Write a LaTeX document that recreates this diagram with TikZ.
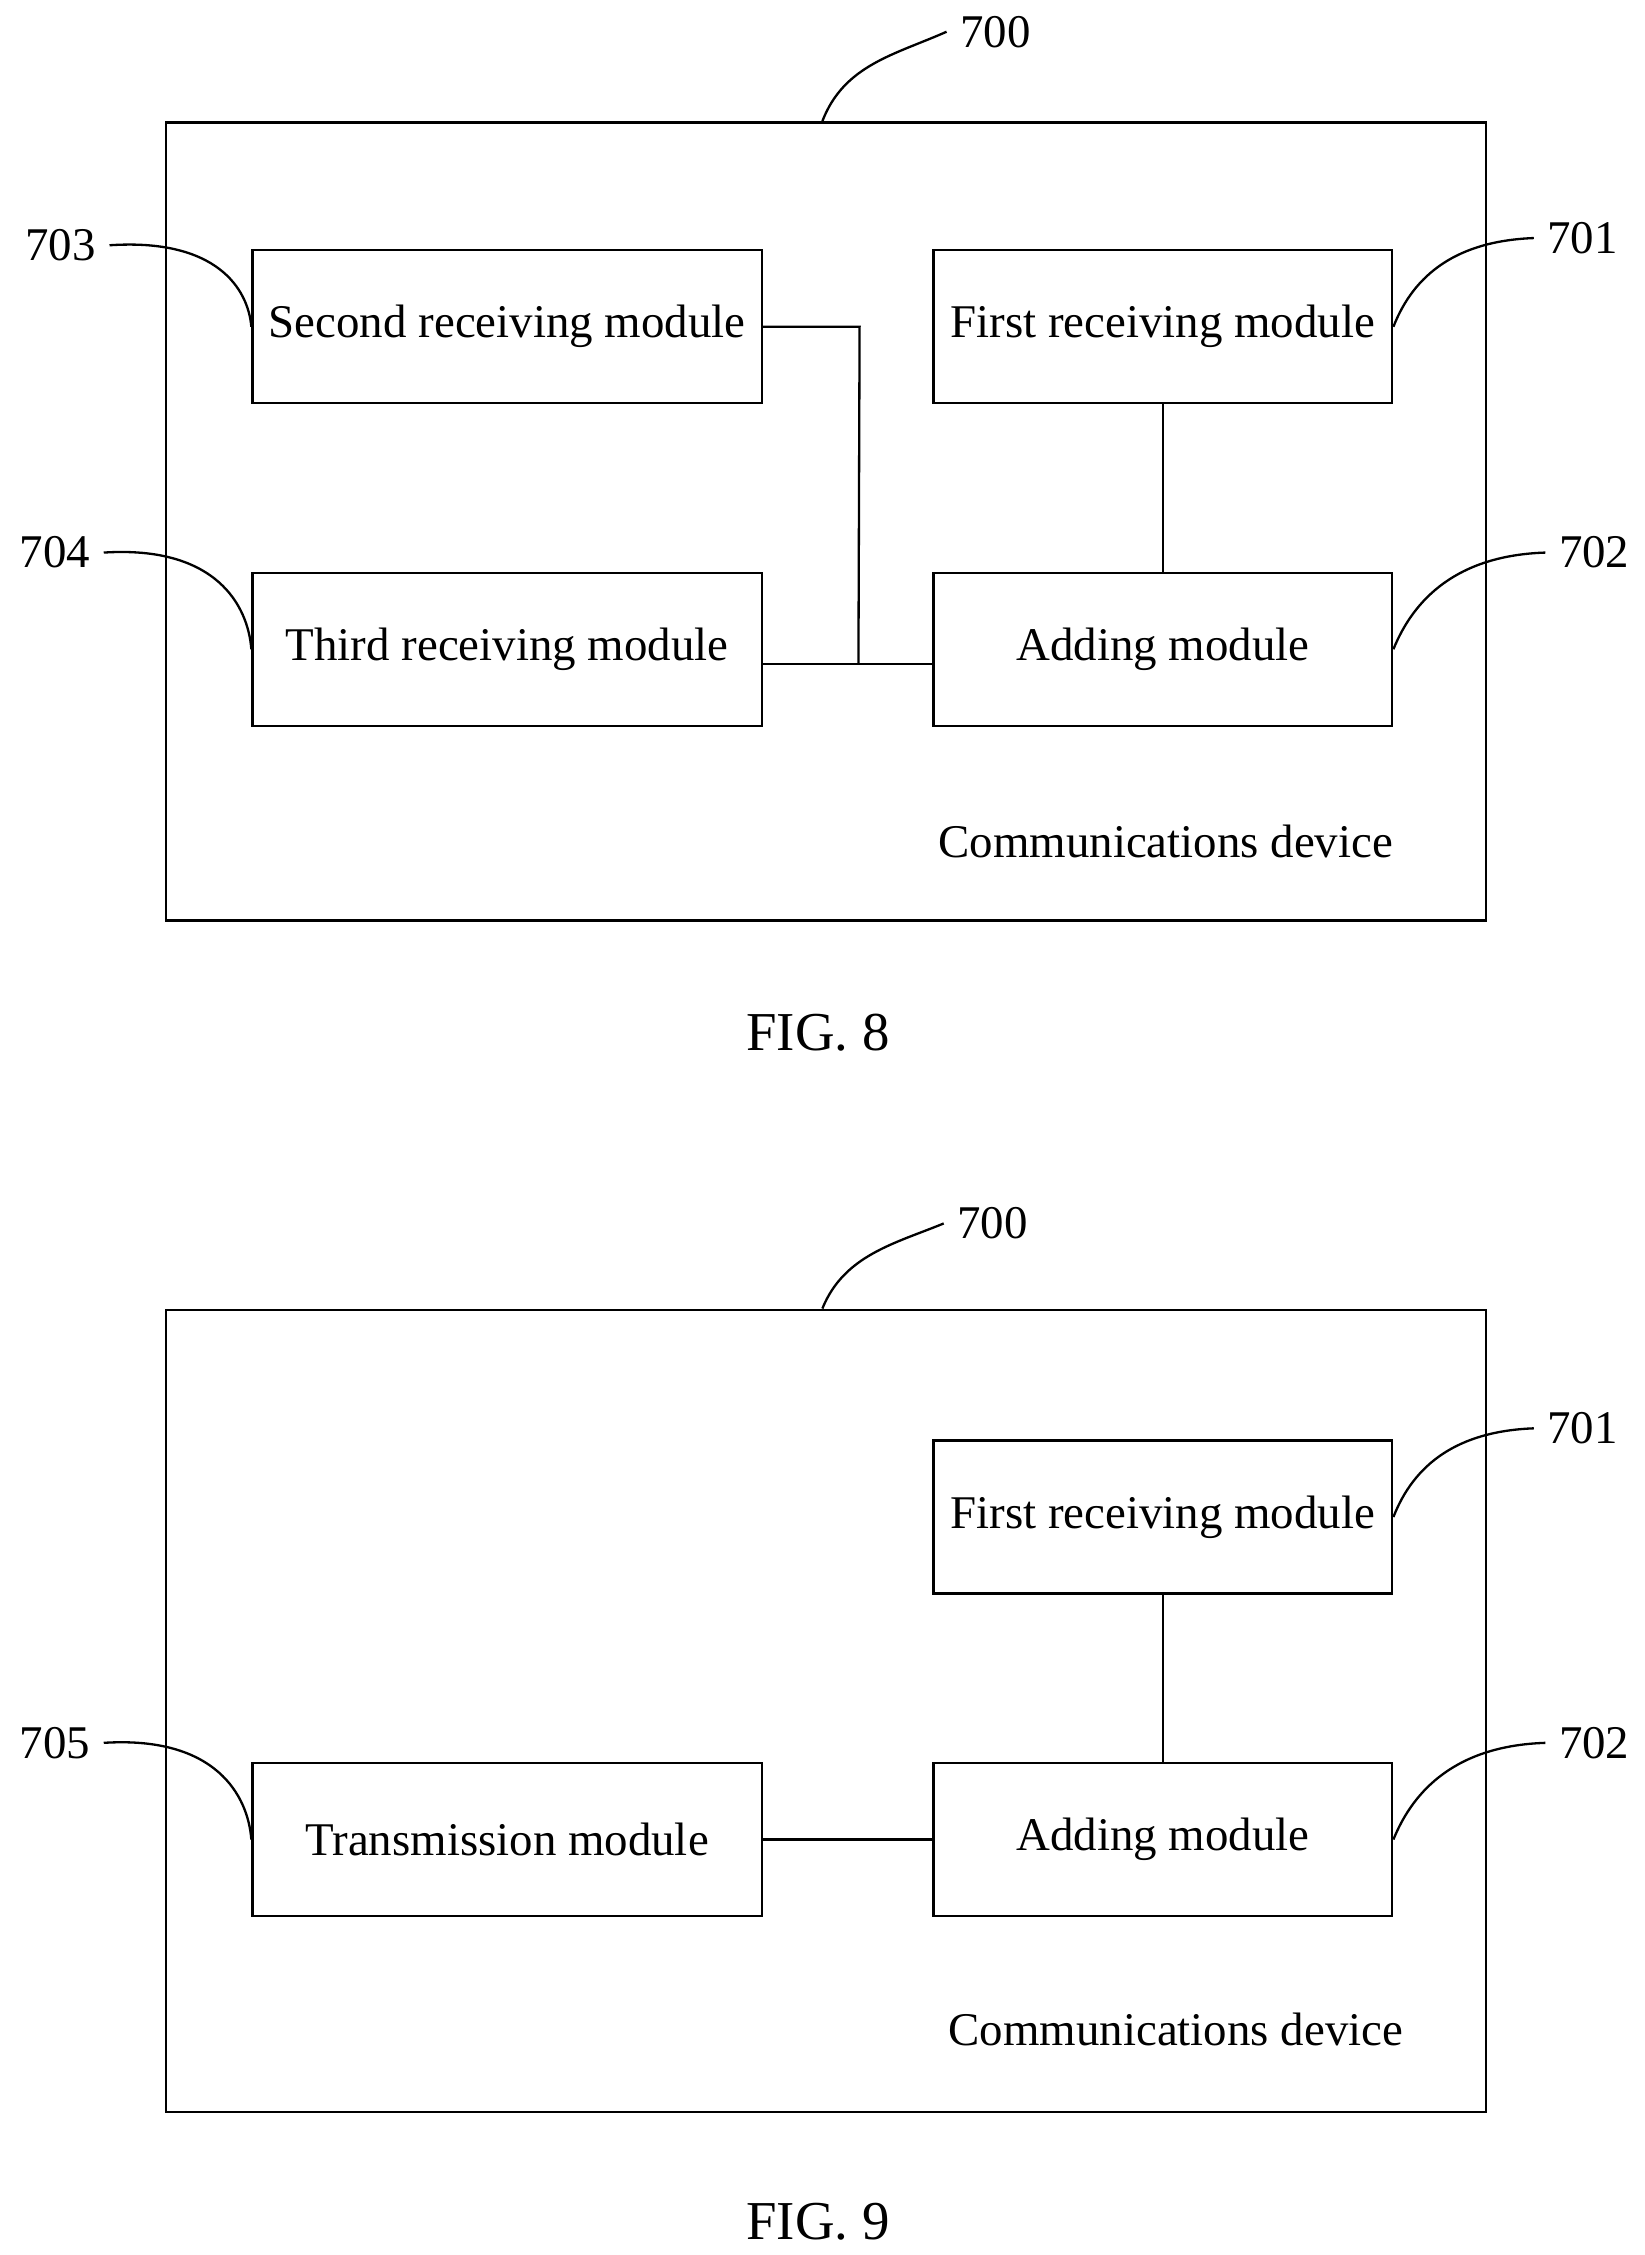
\documentclass[tikz,border=0pt]{standalone}
\usepackage{fontspec}
\setmainfont{Liberation Serif}
\begin{document}
\begin{tikzpicture}[x=1pt,y=-1pt,
  every node/.style={font=\fontsize{32.5}{38}\selectfont},
  module/.style={draw,line width=1.6pt,minimum width=353pt,minimum height=106pt,inner sep=0pt},
  wide/.style={module,minimum width=318pt},
  device/.style={draw,line width=1.6pt},
  caption/.style={font=\fontsize{38}{44}\selectfont},
  leader/.style={line width=1.6pt},
  link/.style={line width=1.6pt}]
  \useasboundingbox (0,0) rectangle (1140,1563);

  % FIG. 8
  \draw[device] (115,85) rectangle (1030,638);
  \coordinate (top8) at (570,84);
  \node (second) [module] at (351.5,226.5) {Second receiving module};
  \node (third) [module] at (351.5,450) {Third receiving module};
  \node (first8) [wide] at (806,226.5) {First receiving module};
  \node (add8) [wide] at (806,450) {Adding module};
  \node (dev8) at (808,583) {Communications device};
  \node (fig8) [caption] at (567,716) {FIG. 8};
  \coordinate (j8) at (595,460);

  \draw[link] (second.east) -- ++(67,0) -- (j8);
  \draw[link] (third.east |- j8) -- (j8) -- (add8.west |- j8);
  \draw[link] (first8) -- (add8);

  \node (n700a) at (690,22) {700};
  \node (n703) at (42,170) {703};
  \node (n701a) at (1097,165) {701};
  \node (n704) at (38,383) {704};
  \node (n702a) at (1105,383) {702};

  \draw[leader] (top8) .. controls (585,45) and (620,38) .. ([xshift=-6pt]n700a.west);
  \draw[leader] ([xshift=6pt]n703.east) .. controls (150,165) and (172,200) .. (second.west);
  \draw[leader] (first8.east) .. controls (980,190) and (1010,167) .. ([xshift=-6pt]n701a.west);
  \draw[leader] ([xshift=6pt]n704.east) .. controls (150,378) and (172,420) .. (third.west);
  \draw[leader] (add8.east) .. controls (980,415) and (1010,385) .. ([xshift=-6pt]n702a.west);

  % FIG. 9
  \draw[device] (115,908) rectangle (1030,1464);
  \coordinate (top9) at (570,907);
  \node (first9) [wide] at (806,1051.5) {First receiving module};
  \node (trans) [module] at (351.5,1275) {Transmission module};
  \node (add9) [wide] at (806,1275) {Adding module};
  \node (dev9) at (815,1407) {Communications device};
  \node (fig9) [caption] at (567,1540) {FIG. 9};

  \draw[link] (trans) -- (add9);
  \draw[link] (first9) -- (add9);

  \node (n700b) at (688,848) {700};
  \node (n701b) at (1097,990) {701};
  \node (n705) at (38,1208) {705};
  \node (n702b) at (1105,1208) {702};

  \draw[leader] (top9) .. controls (585,870) and (620,862) .. ([xshift=-6pt]n700b.west);
  \draw[leader] (first9.east) .. controls (980,1015) and (1010,992) .. ([xshift=-6pt]n701b.west);
  \draw[leader] ([xshift=6pt]n705.east) .. controls (150,1203) and (172,1245) .. (trans.west);
  \draw[leader] (add9.east) .. controls (980,1240) and (1010,1210) .. ([xshift=-6pt]n702b.west);
\end{tikzpicture}
\end{document}
